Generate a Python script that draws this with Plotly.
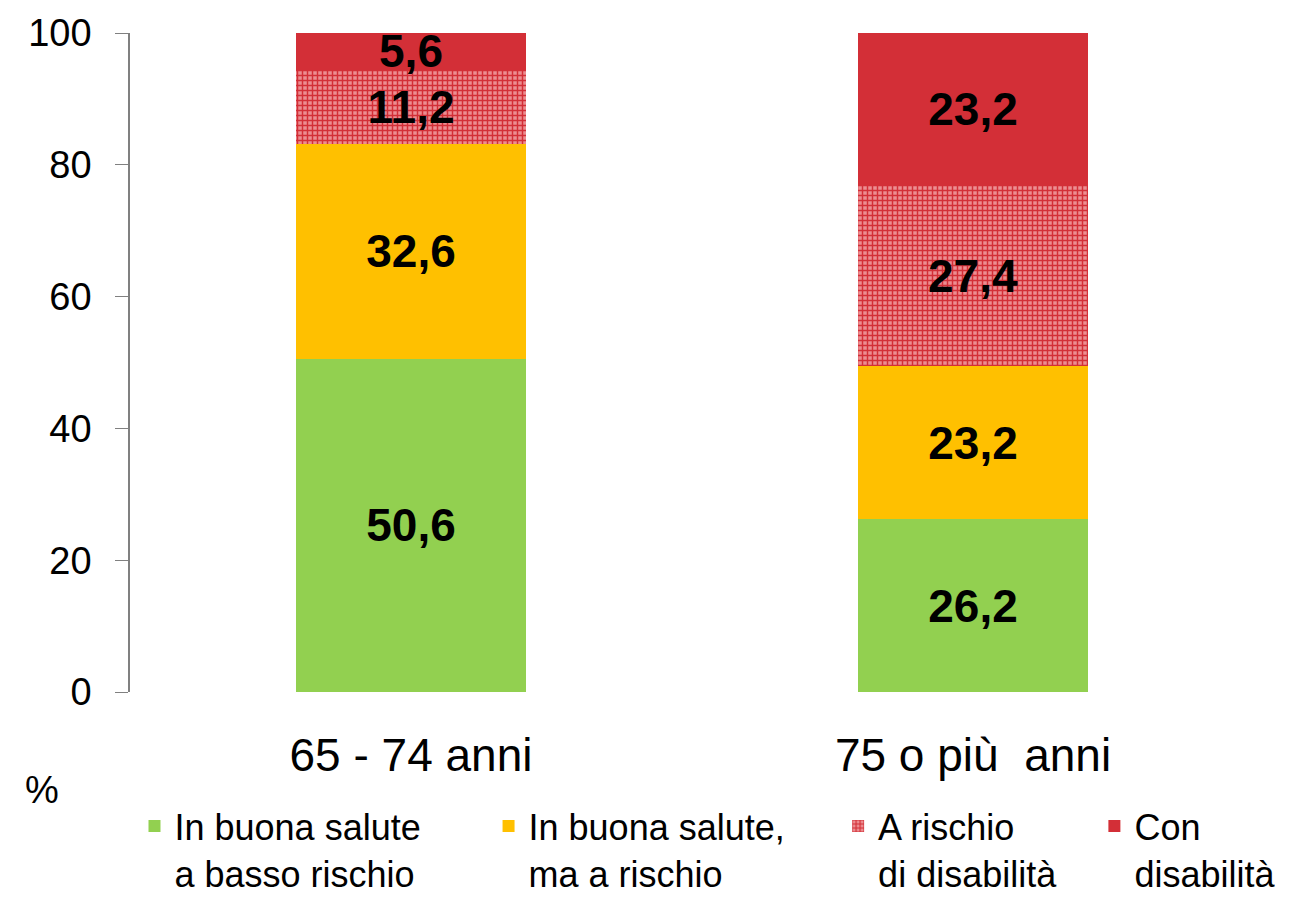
import plotly.graph_objects as go

categories = ["65 - 74 anni", "75 o più  anni"]
series_names = ["In buona salute<br>a basso rischio", "In buona salute,<br>ma a rischio",
                "A rischio<br>di disabilità", "Con<br>disabilità"]
v_buona_basso = [50.6, 26.2]
v_buona_rischio = [32.6, 23.2]
v_rischio_dis = [11.2, 27.4]
v_con_dis = [5.6, 23.2]
y_ticks = [0, 20, 40, 60, 80, 100]

colors = ["#92D050", "#FFC000", "#D9343B", "#D32F37"]
values = [v_buona_basso, v_buona_rischio, v_rischio_dis, v_con_dis]
legend_ids = ["legend", "legend2", "legend3", "legend4"]
legend_x = [0.004, 0.319, 0.630, 0.858]

fig = go.Figure()
for i, (name, vals) in enumerate(zip(series_names, values)):
    marker = dict(color=colors[i], line=dict(width=0))
    if i == 2:
        marker["pattern"] = dict(shape="+", fgcolor="#D32F37", bgcolor="#EC8D91",
                                 size=5, solidity=0.5, fillmode="replace")
    fig.add_trace(go.Bar(
        x=categories, y=vals, name=name, marker=marker, width=0.41,
        legend=legend_ids[i],
        texttemplate="%{y:.1f}", textposition="inside", insidetextanchor="middle",
        textangle=0, constraintext="none",
        textfont=dict(family="Liberation Sans, Arial", size=46, color="black", weight="bold"),
    ))

legend_common = dict(orientation="h", y=-0.158, xanchor="left", yanchor="top",
                     font=dict(size=36, color="black"), valign="top",
                     itemclick=False, bgcolor="rgba(0,0,0,0)")

fig.update_layout(
    barmode="stack",
    separators=",.",
    width=1288, height=890,
    margin=dict(l=122, r=42, t=25, b=206, autoexpand=False),
    paper_bgcolor="white", plot_bgcolor="white",
    uniformtext=dict(minsize=46, mode="show"),
    font=dict(family="Liberation Sans, Arial", color="black"),
    showlegend=True,
    legend=dict(x=legend_x[0], **legend_common),
    legend2=dict(x=legend_x[1], **legend_common),
    legend3=dict(x=legend_x[2], **legend_common),
    legend4=dict(x=legend_x[3], **legend_common),
    xaxis=dict(showline=False, ticks="", tickfont=dict(size=46), showgrid=False,
               ticklabelstandoff=32),
    yaxis=dict(range=[0, 100], tickvals=y_ticks, showgrid=False, zeroline=False,
               showline=True, linecolor="#808080", linewidth=1.5,
               ticks="outside", ticklen=13, tickcolor="#808080",
               tickfont=dict(size=38), ticklabelstandoff=16),
    annotations=[dict(text="%", xref="paper", yref="paper", x=-0.078, y=-0.149,
                      showarrow=False, font=dict(size=38), xanchor="center", yanchor="middle")],
)

fig.write_html("out.html")
